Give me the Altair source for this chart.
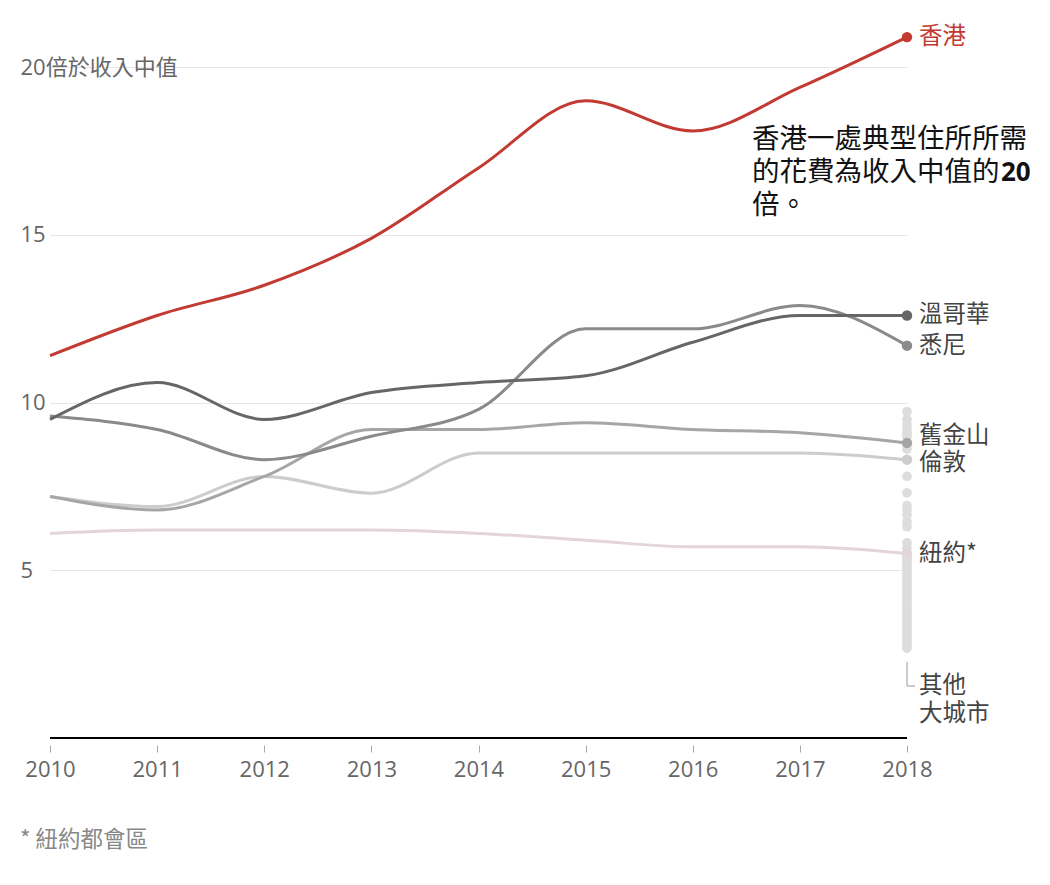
import altair as alt
import pandas as pd

years = [2010, 2011, 2012, 2013, 2014, 2015, 2016, 2017, 2018]
cities = ["紐約*", "倫敦", "舊金山", "悉尼", "溫哥華", "香港"]
hong_kong = [11.4, 12.6, 13.5, 14.9, 17.0, 19.0, 18.1, 19.4, 20.9]
vancouver = [9.5, 10.6, 9.5, 10.3, 10.6, 10.8, 11.8, 12.6, 12.6]
sydney = [9.6, 9.2, 8.3, 9.0, 9.8, 12.2, 12.2, 12.9, 11.7]
san_francisco = [7.2, 6.8, 7.8, 9.2, 9.2, 9.4, 9.2, 9.1, 8.8]
london = [7.2, 6.9, 7.8, 7.3, 8.5, 8.5, 8.5, 8.5, 8.3]
new_york = [6.1, 6.2, 6.2, 6.2, 6.1, 5.9, 5.7, 5.7, 5.5]
other_cities_2018 = [9.73, 9.50, 9.35, 9.22, 9.08, 8.98, 8.62, 7.80, 7.31, 6.93,
                     6.80, 6.65, 6.45, 6.30, 5.82, 5.66, 5.40, 5.33, 5.24, 5.15,
                     5.07, 4.98, 4.88, 4.79, 4.71, 4.60, 4.52, 4.43, 4.33, 4.24,
                     4.15, 4.06, 3.96, 3.87, 3.79, 3.68, 3.59, 3.50, 3.40, 3.31,
                     3.22, 3.12, 3.03, 2.94, 2.85, 2.76, 2.68]
label_nudge = {"舊金山": 0.2, "倫敦": -0.1}
yticks = [5, 10, 15, 20]

series = {"香港": hong_kong, "溫哥華": vancouver, "悉尼": sydney,
          "舊金山": san_francisco, "倫敦": london, "紐約*": new_york}
colors = ["#e4d5d8", "#cccccc", "#a6a6a6", "#8a8a8a", "#666666", "#c23a31"]

FONT = "Open Sans, Noto Sans CJK TC, sans-serif"
CJK = "Noto Sans CJK TC, sans-serif"

rows = []
for c in cities:
    for yr, v in zip(years, series[c]):
        rows.append({"city": c, "year": yr, "value": v})
df = pd.DataFrame(rows)
last = df[df.year == 2018].copy()
last["label_y"] = [v + label_nudge.get(c, 0) for c, v in zip(last.city, last.value)]
others = pd.DataFrame({"year": [2018] * len(other_cities_2018), "value": other_cities_2018})

xscale = alt.Scale(domain=[2010, 2018], nice=False, zero=False)
yscale = alt.Scale(domain=[0, 21.5], nice=False)
cscale = alt.Scale(domain=cities, range=colors)

X = alt.X("year:Q", scale=xscale,
          axis=alt.Axis(values=years, format="d", title=None, grid=False, domain=False,
                        offset=7, tickSize=7, tickColor="#aaaaaa", labelPadding=7,
                        labelFlush=False,
                        labelFontSize=22, labelColor="#666666", labelFont=FONT))
Y = alt.Y("value:Q", scale=yscale,
          axis=alt.Axis(values=yticks, title=None, domain=False, ticks=False, grid=True,
                        gridColor="#e6e6e6", labelAlign="left", labelBaseline="middle",
                        labelPadding=30, labelFontSize=22, labelColor="#666666",
                        labelFont=FONT,
                        labelExpr="datum.value == 20 ? '20倍於收入中值' : datum.label"))

grid_axes = alt.Chart(df).mark_point(opacity=0).encode(x=X, y=Y)

baseline = alt.Chart(pd.DataFrame({"v": [0]})).mark_rule(color="black", strokeWidth=2).encode(
    y=alt.Y("v:Q", scale=yscale))

other_dots = alt.Chart(others).mark_circle(size=95, color="#dddddd", opacity=1).encode(
    x=alt.X("year:Q", scale=xscale), y=alt.Y("value:Q", scale=yscale))

layers = [grid_axes, baseline, other_dots]
for c in cities:
    layers.append(
        alt.Chart(df[df.city == c]).mark_line(interpolate="monotone", strokeWidth=3).encode(
            x=alt.X("year:Q", scale=xscale), y=alt.Y("value:Q", scale=yscale),
            color=alt.Color("city:N", scale=cscale, legend=None)))

end_dots = alt.Chart(last).mark_circle(size=110, opacity=1).encode(
    x=alt.X("year:Q", scale=xscale), y=alt.Y("value:Q", scale=yscale),
    color=alt.Color("city:N", scale=cscale, legend=None))
layers.append(end_dots)

labels_hk = alt.Chart(last[last.city == "香港"]).mark_text(
    align="left", baseline="middle", dx=12, fontSize=23.5, font=CJK, color="#c23a31").encode(
    x=alt.X("year:Q", scale=xscale), y=alt.Y("label_y:Q", scale=yscale), text="city:N")
labels_other = alt.Chart(last[last.city != "香港"]).mark_text(
    align="left", baseline="middle", dx=12, fontSize=23.5, font=CJK, color="#444444").encode(
    x=alt.X("year:Q", scale=xscale), y=alt.Y("label_y:Q", scale=yscale), text="city:N")
layers += [labels_hk, labels_other]

# bracket for other cities
bracket_v = alt.Chart(pd.DataFrame({"x": [2018], "y1": [2.27], "y2": [1.55]})).mark_rule(
    color="#999999", strokeWidth=1).encode(
    x=alt.X("x:Q", scale=xscale), y=alt.Y("y1:Q", scale=yscale), y2="y2:Q")
bracket_h = alt.Chart(pd.DataFrame({"x1": [2018], "x2": [2018.075], "y": [1.55]})).mark_rule(
    color="#999999", strokeWidth=1).encode(
    x=alt.X("x1:Q", scale=xscale), x2="x2:Q", y=alt.Y("y:Q", scale=yscale))
other_label = alt.Chart(pd.DataFrame({"x": [2018, 2018], "y": [1.55, 0.72],
                                      "t": ["其他", "大城市"]})).mark_text(
    align="left", baseline="middle", dx=12, fontSize=23.5, font=CJK, color="#444444").encode(
    x=alt.X("x:Q", scale=xscale), y=alt.Y("y:Q", scale=yscale), text="t:N")
layers += [bracket_v, bracket_h, other_label]

# annotation
ann_x = 2016.553
ann = pd.DataFrame({"x": [ann_x, ann_x, ann_x], "y": [17.82, 16.84, 15.86],
                    "t": ["香港一處典型住所所需", "的花費為收入中值的", "倍。"]})
ann_text = alt.Chart(ann).mark_text(align="left", baseline="middle", fontSize=27.5,
                                    font=CJK, color="#111111").encode(
    x=alt.X("x:Q", scale=xscale), y=alt.Y("y:Q", scale=yscale), text="t:N")
ann_bold = alt.Chart(pd.DataFrame({"x": [ann_x], "y": [16.84], "t": ["20"]})).mark_text(
    align="left", baseline="middle", fontSize=26, fontWeight="bold", dx=249,
    font=FONT, color="#111111").encode(
    x=alt.X("x:Q", scale=xscale), y=alt.Y("y:Q", scale=yscale), text="t:N")
layers += [ann_text, ann_bold]

foot = alt.Chart(pd.DataFrame({"x": [2009.72], "y": [-3.04], "t": ["* 紐約都會區"]})).mark_text(
    align="left", baseline="middle", fontSize=22.5, font=CJK, color="#888888").encode(
    x=alt.X("x:Q", scale=xscale), y=alt.Y("y:Q", scale=yscale), text="t:N")
layers.append(foot)

chart = alt.layer(*layers).properties(
    width=857, height=721,
    background="white",
    autosize=alt.AutoSizeParams(type="none"),
    padding={"left": 42, "top": 9, "right": 130, "bottom": 135},
).configure_axisX(
    grid=False, labelFlush=False
).configure_axisY(
    domain=False, ticks=False
).configure_view(stroke=None, strokeWidth=0)

chart.save("out.html", embed_options={"renderer": "svg", "actions": False})
